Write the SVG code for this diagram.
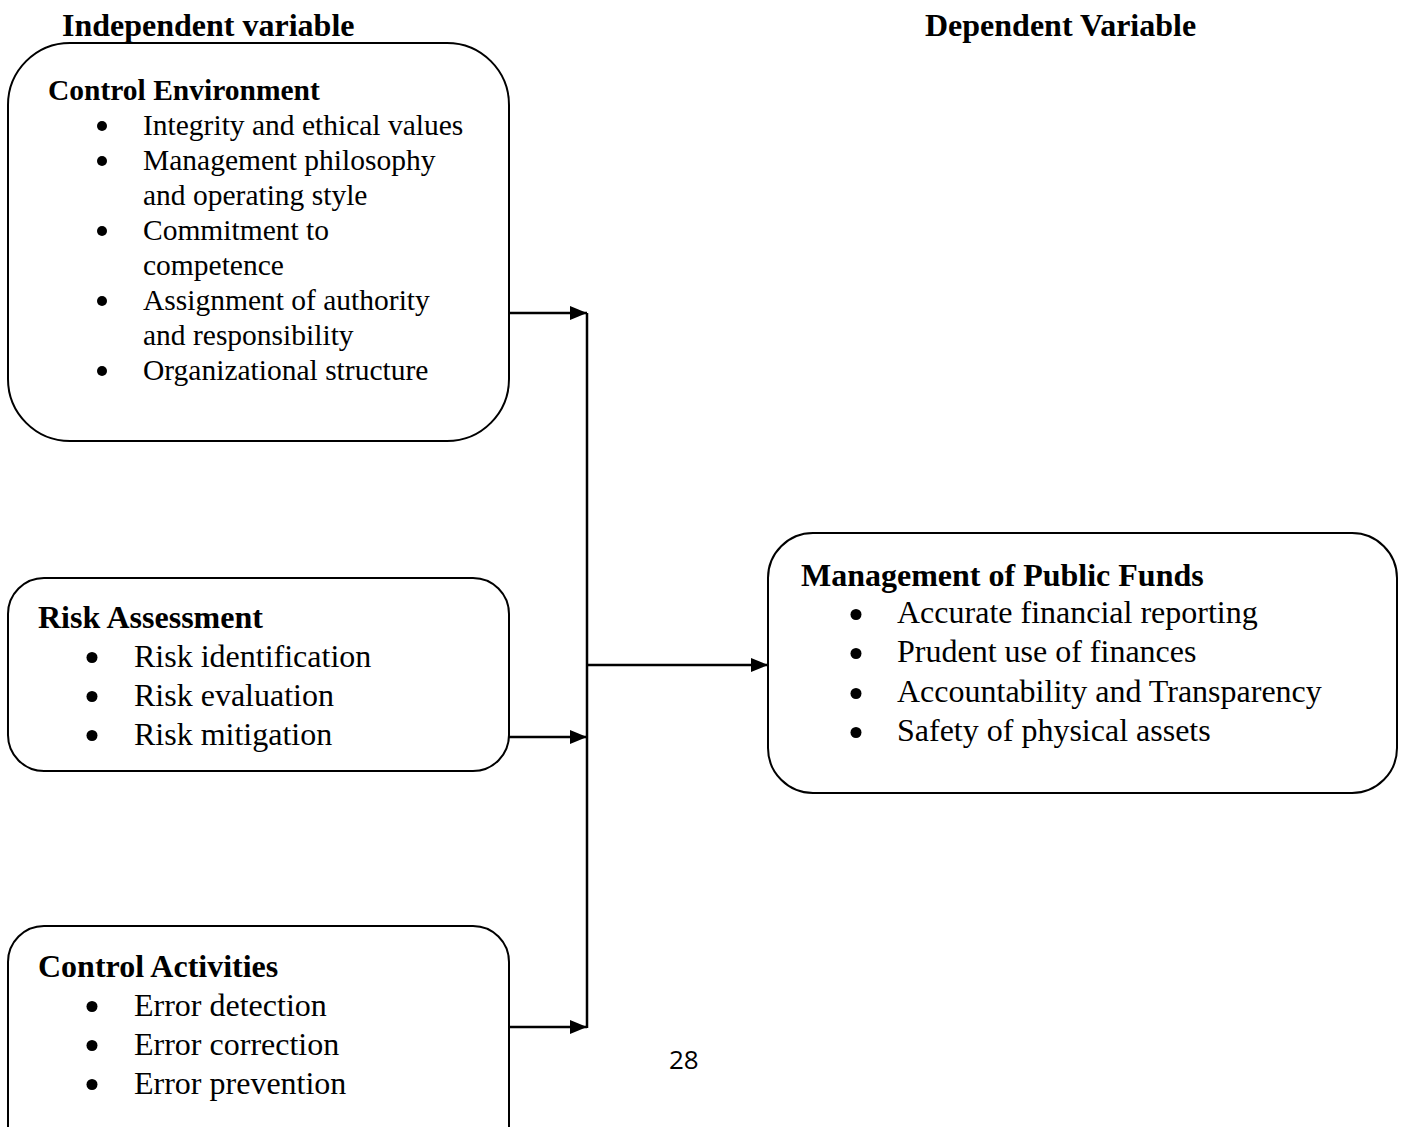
<svg xmlns="http://www.w3.org/2000/svg" width="1401" height="1127" viewBox="0 0 1401 1127">
<style>
.box{fill:#fff;stroke:#000;stroke-width:2}
.t{font-family:"Liberation Serif","Times New Roman",serif;fill:#000}
.h{font-weight:bold}
.c{stroke:#000;stroke-width:2.5;fill:none}
.b{fill:#000}
</style>
<defs>
<marker id="ah" markerWidth="17" markerHeight="14" refX="17" refY="7" orient="auto" markerUnits="userSpaceOnUse"><path d="M0,0 L17,7 L0,14 Z" fill="#000"/></marker>
</defs>
<rect width="1401" height="1127" fill="#fff"/>
<text class="t h" x="62" y="36" font-size="32">Independent variable</text>
<text class="t h" x="925" y="36" font-size="32">Dependent Variable</text>
<g id="control-environment">
<rect class="box" x="8" y="43" width="501" height="398" rx="62" ry="62"/>
<text class="t h" x="48" y="100" font-size="29.5">Control Environment</text>
<g class="t" font-size="29.5">
<text x="143" y="135">Integrity and ethical values</text>
<text x="143" y="170">Management philosophy</text>
<text x="143" y="205">and operating style</text>
<text x="143" y="240">Commitment to</text>
<text x="143" y="275">competence</text>
<text x="143" y="310">Assignment of authority</text>
<text x="143" y="345">and responsibility</text>
<text x="143" y="380">Organizational structure</text>
</g>
<circle class="b" cx="102" cy="126" r="5"/>
<circle class="b" cx="102" cy="161" r="5"/>
<circle class="b" cx="102" cy="231" r="5"/>
<circle class="b" cx="102" cy="301" r="5"/>
<circle class="b" cx="102" cy="371" r="5"/>
</g>
<g id="risk-assessment">
<rect class="box" x="8" y="578" width="501" height="193" rx="36" ry="36"/>
<text class="t h" x="38" y="628" font-size="32">Risk Assessment</text>
<g class="t" font-size="32">
<text x="134" y="667">Risk identification</text>
<text x="134" y="706">Risk evaluation</text>
<text x="134" y="745">Risk mitigation</text>
</g>
<circle class="b" cx="92" cy="657.5" r="5.5"/>
<circle class="b" cx="92" cy="696.5" r="5.5"/>
<circle class="b" cx="92" cy="735.5" r="5.5"/>
</g>
<g id="control-activities">
<rect class="box" x="8" y="926" width="501" height="240" rx="36" ry="36"/>
<text class="t h" x="38" y="977" font-size="32">Control Activities</text>
<g class="t" font-size="32">
<text x="134" y="1016">Error detection</text>
<text x="134" y="1055">Error correction</text>
<text x="134" y="1094">Error prevention</text>
</g>
<circle class="b" cx="92" cy="1006.5" r="5.5"/>
<circle class="b" cx="92" cy="1045.5" r="5.5"/>
<circle class="b" cx="92" cy="1084.5" r="5.5"/>
</g>
<g id="management-public-funds">
<rect class="box" x="768" y="533" width="629" height="260" rx="45" ry="45"/>
<text class="t h" x="801" y="586" font-size="32">Management of Public Funds</text>
<g class="t" font-size="32">
<text x="897" y="623">Accurate financial reporting</text>
<text x="897" y="662">Prudent use of finances</text>
<text x="897" y="702">Accountability and Transparency</text>
<text x="897" y="741">Safety of physical assets</text>
</g>
<circle class="b" cx="856" cy="614.5" r="5.5"/>
<circle class="b" cx="856" cy="653.5" r="5.5"/>
<circle class="b" cx="856" cy="693.5" r="5.5"/>
<circle class="b" cx="856" cy="732.5" r="5.5"/>
</g>
<g id="connectors">
<line class="c" x1="587" y1="313" x2="587" y2="1028"/>
<line class="c" x1="509" y1="313" x2="587" y2="313" marker-end="url(#ah)"/>
<line class="c" x1="509" y1="737" x2="587" y2="737" marker-end="url(#ah)"/>
<line class="c" x1="509" y1="1027" x2="587" y2="1027" marker-end="url(#ah)"/>
<line class="c" x1="587" y1="665" x2="768" y2="665" marker-end="url(#ah)"/>
</g>
<text x="669" y="1069" font-family="Open Sans, Liberation Sans, sans-serif" font-size="26" fill="#000">28</text>
</svg>
